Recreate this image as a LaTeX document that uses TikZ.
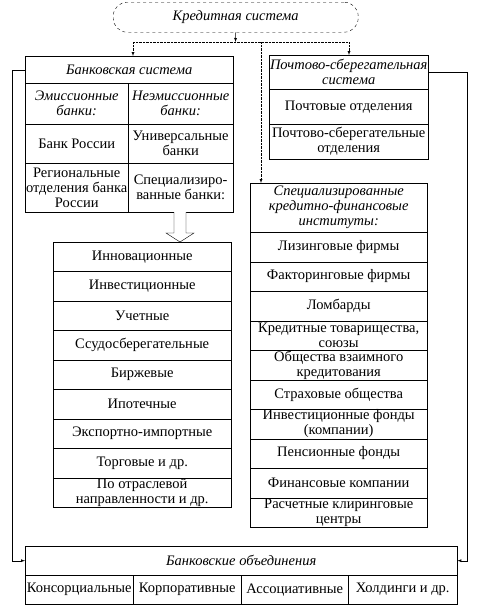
\documentclass[tikz,border=0pt]{standalone}
\usepackage{fontspec}
\setmainfont{Liberation Serif}

\begin{document}
\begin{tikzpicture}[x=1pt, y=-1pt,
    cell/.style={draw, inner sep=0pt, align=center, anchor=north west,
      font=\fontsize{14.5}{15}\selectfont},
    head/.style={cell, font=\fontsize{14.5}{15}\selectfont\itshape},
    link/.style={densely dotted},
    tip/.style={-latex}]
  \useasboundingbox (0,0) rectangle (478,608);

  \node[head, dashed, rounded corners=14pt, minimum width=245pt, minimum height=30pt] (kred) at (113,2) {Кредитная система};

  % banking system
  \node[head, minimum width=208pt, minimum height=27pt] (bank) at (25,56) {Банковская система};
  \node[head, minimum width=103pt, minimum height=41pt] (emis) at (25,83) {Эмиссионные\\банки:};
  \node[head, minimum width=105pt, minimum height=41pt] (neemis) at (128,83) {Неэмиссионные\\банки:};
  \node[cell, minimum width=103pt, minimum height=39pt] (cbr) at (25,124) {Банк России};
  \node[cell, minimum width=105pt, minimum height=39pt] (univ) at (128,124) {Универсальные\\банки};
  \node[cell, minimum width=103pt, minimum height=49pt] (region) at (25,163) {Региональные\\отделения банка\\России};
  \node[cell, minimum width=105pt, minimum height=49pt] (spezb) at (128,163) {Специализиро-\\ванные банки:};

  % postal system
  \node[head, minimum width=159pt, minimum height=34pt] (post) at (269,55) {Почтово-сберегательная\\система};
  \node[cell, minimum width=159pt, minimum height=35pt] (postotd) at (269,89) {Почтовые отделения};
  \node[cell, minimum width=159pt, minimum height=35pt] (postsb) at (269,124) {Почтово-сберегательные\\отделения};

  % specialized institutions
  \node[head, minimum width=177pt, minimum height=49pt] (inst) at (250,183) {Специализированные\\кредитно-финансовые\\институты:};
  \foreach \txt [count=\i] in {Лизинговые фирмы, Факторинговые фирмы, Ломбарды,
      {Кредитные товарищества,\\союзы}, {Общества взаимного\\кредитования},
      Страховые общества, {Инвестиционные фонды\\(компании)}, Пенсионные фонды,
      Финансовые компании, {Расчетные клиринговые\\центры}}
    \node[cell, minimum width=177pt, minimum height=29.5pt] (inst-\i) at (250,{232+(\i-1)*29.5}) {\txt};

  % kinds of specialized banks
  \foreach \txt [count=\i] in {Инновационные, Инвестиционные, Учетные,
      Ссудосберегательные, Биржевые, Ипотечные, Экспортно-импортные,
      Торговые и др., {По отраслевой\\направленности и др.}}
    \node[cell, minimum width=178pt, minimum height=29.44pt] (kind-\i) at (53,{242+(\i-1)*29.44}) {\txt};

  % bank unions
  \node[head, minimum width=432pt, minimum height=29pt] (obed) at (25,546) {Банковские объединения};
  \foreach \txt/\x/\w [count=\i] in {Консорциальные/25/108, Корпоративные/133/108,
      Ассоциативные/241/107, Холдинги и др./348/109}
    \node[cell, minimum width=\w pt, minimum height=29pt] (form-\i) at (\x,575) {\txt};

  % connectors
  \coordinate (split) at (235.5,42);
  \coordinate (bl) at (133,42);
  \coordinate (br) at (349,42);
  \coordinate (bm) at (261,42);
  \draw[tip] (kred.south) -- (split);
  \draw[link] (bl) -- (br);
  \draw[link, tip] (bl) -- (bl |- bank.north);
  \draw[link, tip] (br) -- (br |- post.north);
  \draw[link, tip] (bm) -- (bm |- inst.north);
  \draw[tip] (bank.west) -- ++(-13,0) |- (obed.west);
  \draw[tip] (post.east) -- ++(39,0) |- (obed.east);

  % hollow arrow
  \coordinate (hol) at (180,212);
  \draw[fill=white] (hol) ++(-6,0) -- ++(0,21) -- ++(-8,0) -- (hol |- kind-1.north)
    -- ++(14,-9) -- ++(-8,0) -- ++(0,-21);
\end{tikzpicture}
\end{document}
